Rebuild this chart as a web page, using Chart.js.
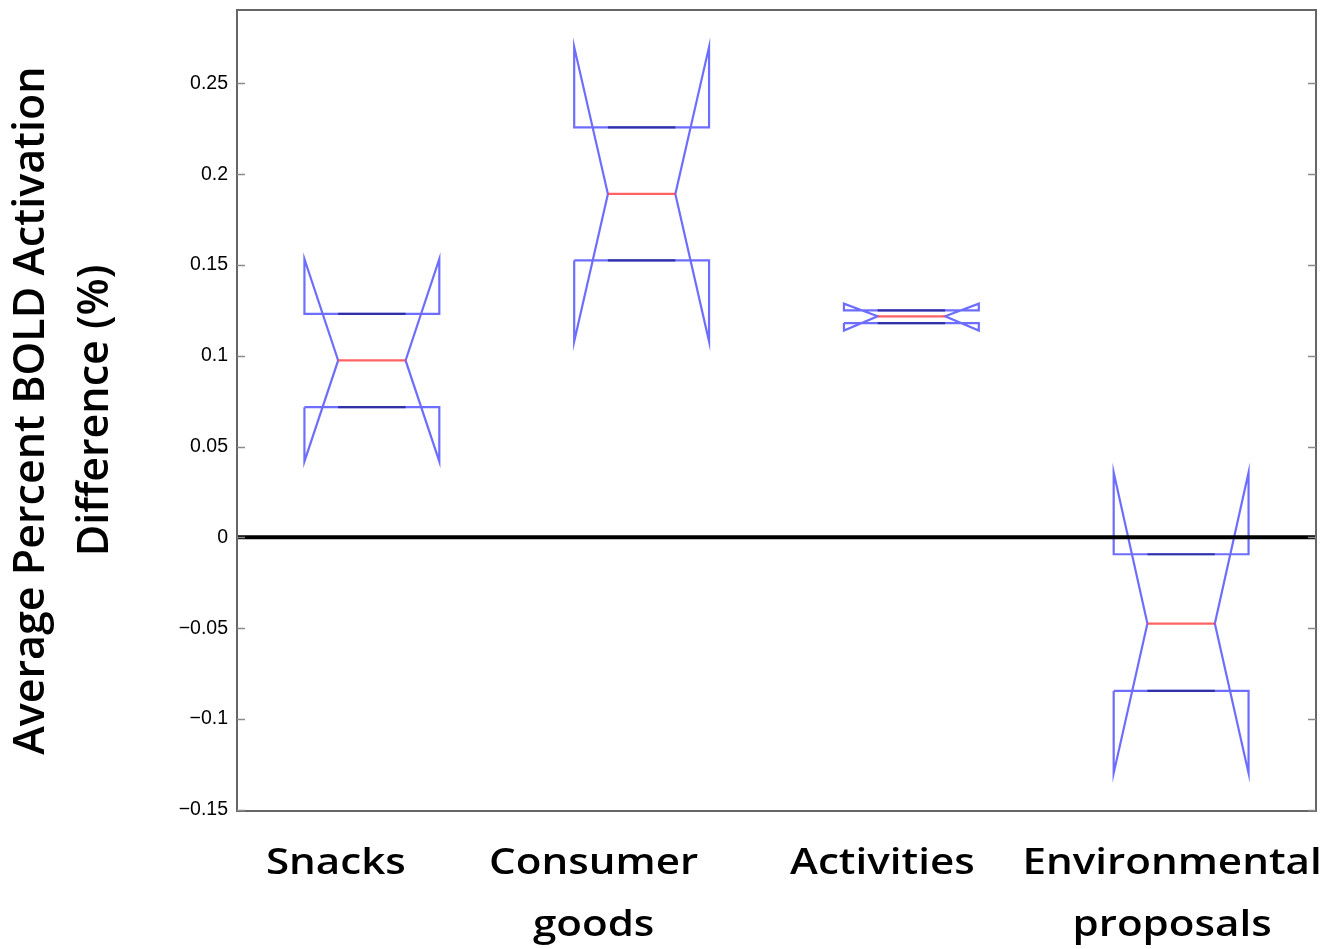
<!DOCTYPE html>
<html>
<head>
<meta charset="utf-8">
<script src="https://cdn.jsdelivr.net/npm/chart.js@4.4.1/dist/chart.umd.min.js"></script>
<style>
  html, body { margin: 0; padding: 0; background: #ffffff; }
  #wrap { width: 1329px; height: 949px; }
</style>
</head>
<body>
<div id="wrap"><canvas id="chart" width="1329" height="949"></canvas></div>
<script>
// Group names (each entry is the lines of one label)
const categories = [['Snacks'], ['Consumer', 'goods'], ['Activities'], ['Environmental', 'proposals']];

// Box statistics per group (percent BOLD difference)
const medians  = [0.0974, 0.1891, 0.1217, -0.0475];
const q1       = [0.0717, 0.1525, 0.1180, -0.0846];
const q3       = [0.1231, 0.2258, 0.1250, -0.0093];
const notchLo  = [0.0418, 0.1079, 0.1139, -0.1299];
const notchHi  = [0.1533, 0.2701, 0.1287, 0.0357];

// Y axis tick values
const yTicks = [-0.15, -0.1, -0.05, 0, 0.05, 0.1, 0.15, 0.2, 0.25];

// Styling
const BOX_HALF = 0.25;          // half box width in x units
const MED_HALF = BOX_HALF / 2;  // half median width
const BLUE = 'rgba(60, 60, 255, 0.75)';
const RED = 'rgba(255, 70, 70, 0.85)';
const CAP = 'rgba(40, 40, 150, 0.85)';
const LABEL_SHIFT = [-36, -48, -29, -9];   // horizontal nudge of group names (px)
const LABEL_STRETCH = 1.17;
const LABEL_FONT = '600 36px "Open Sans", sans-serif';

function fmtTick(v) {
  if (v === 0) return '0';
  const s = String(Math.round(Math.abs(v) * 100) / 100);
  return (v < 0 ? '\u2212' : '') + s;
}

const datasets = [];
categories.forEach((_, i) => {
  const c = i + 1;
  const L = c - BOX_HALF, R = c + BOX_HALF;
  // notched box outline
  datasets.push({
    data: [
      {x: L, y: q1[i]}, {x: L, y: notchLo[i]}, {x: c - MED_HALF, y: medians[i]},
      {x: L, y: notchHi[i]}, {x: L, y: q3[i]}, {x: R, y: q3[i]},
      {x: R, y: notchHi[i]}, {x: c + MED_HALF, y: medians[i]}, {x: R, y: notchLo[i]},
      {x: R, y: q1[i]}, {x: L, y: q1[i]}
    ],
    borderColor: BLUE, borderWidth: 2.2, order: 3
  });
  // adjacent value caps
  datasets.push({
    data: [{x: c - MED_HALF, y: q3[i]}, {x: c + MED_HALF, y: q3[i]}],
    borderColor: CAP, borderWidth: 2.2, order: 2
  });
  datasets.push({
    data: [{x: c - MED_HALF, y: q1[i]}, {x: c + MED_HALF, y: q1[i]}],
    borderColor: CAP, borderWidth: 2.2, order: 2
  });
  // median
  datasets.push({
    data: [{x: c - MED_HALF, y: medians[i]}, {x: c + MED_HALF, y: medians[i]}],
    borderColor: RED, borderWidth: 2.2, order: 2
  });
});
// zero reference line
datasets.push({
  data: [{x: 0.5, y: 0}, {x: categories.length + 0.5, y: 0}],
  borderColor: '#000000', borderWidth: 4, order: 0
});
datasets.forEach(d => {
  d.showLine = true;
  d.pointRadius = 0;
  d.pointHoverRadius = 0;
  d.tension = 0;
  d.fill = false;
  d.borderCapStyle = 'butt';
  d.borderJoinStyle = 'miter';
});

// Frame, inward tick marks and group names
const framePlugin = {
  id: 'frame',
  afterDraw(chart) {
    const {ctx, chartArea: a, scales} = chart;
    const ys = scales.y, xs = scales.x;
    ctx.save();
    ctx.strokeStyle = '#666666';
    ctx.lineWidth = 2;
    ctx.strokeRect(a.left, a.top, a.right - a.left, a.bottom - a.top);
    ctx.lineWidth = 1.5;
    ctx.strokeStyle = '#8a8a8a';
    yTicks.forEach(v => {
      const y = Math.round(ys.getPixelForValue(v)) + 0.5;
      ctx.beginPath();
      ctx.moveTo(a.left, y); ctx.lineTo(a.left + 8, y);
      ctx.moveTo(a.right, y); ctx.lineTo(a.right - 8, y);
      ctx.stroke();
    });
    // group names
    ctx.fillStyle = '#000000';
    ctx.font = LABEL_FONT;
    ctx.textAlign = 'center';
    ctx.textBaseline = 'alphabetic';
    categories.forEach((lines, i) => {
      const cx = xs.getPixelForValue(i + 1) + LABEL_SHIFT[i];
      lines.forEach((t, k) => {
        ctx.save();
        ctx.translate(cx, a.bottom + 63 + k * 62);
        ctx.scale(LABEL_STRETCH, 1);
        ctx.fillText(t, 0, 0);
        ctx.restore();
      });
    });
    ctx.restore();
  }
};

new Chart(document.getElementById('chart'), {
  type: 'scatter',
  data: { datasets },
  options: {
    responsive: false,
    devicePixelRatio: 1,
    animation: false,
    layout: { padding: { top: 0, right: 13, bottom: 138, left: 0 } },
    plugins: { legend: { display: false }, tooltip: { enabled: false } },
    scales: {
      x: {
        type: 'linear', min: 0.5, max: categories.length + 0.5,
        display: false
      },
      y: {
        type: 'linear', min: -0.1507, max: 0.2904,
        afterFit(scale) { scale.width = 237; scale.paddingTop = 10; },
        afterBuildTicks(scale) { scale.ticks = yTicks.map(v => ({value: v})); },
        grid: { display: false, drawTicks: false },
        border: { display: false },
        ticks: {
          padding: 9,
          color: '#000000',
          font: { family: '"Liberation Sans", Arial, sans-serif', size: 19.5 },
          callback: v => fmtTick(v)
        },
        title: {
          display: true,
          text: ['Average Percent BOLD Activation', 'Difference (%)'],
          color: '#000000',
          padding: 0,
          font: { family: '"Open Sans", sans-serif', size: 43, weight: '600', lineHeight: '64px' }
        }
      }
    }
  },
  plugins: [framePlugin]
});
</script>
</body>
</html>
